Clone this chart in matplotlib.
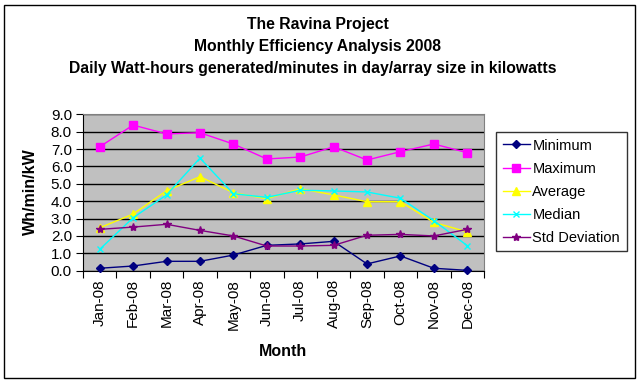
import matplotlib
matplotlib.use("Agg")
import matplotlib.pyplot as plt
from matplotlib.patches import Rectangle

months = ["Jan-08", "Feb-08", "Mar-08", "Apr-08", "May-08", "Jun-08",
          "Jul-08", "Aug-08", "Sep-08", "Oct-08", "Nov-08", "Dec-08"]
minimum = [0.14, 0.27, 0.54, 0.54, 0.90, 1.46, 1.54, 1.69, 0.39, 0.85, 0.14, 0.02]
maximum = [7.13, 8.38, 7.87, 7.94, 7.29, 6.43, 6.54, 7.13, 6.37, 6.85, 7.29, 6.79]
average = [2.47, 3.26, 4.60, 5.41, 4.49, 4.14, 4.72, 4.36, 3.97, 3.97, 2.78, 2.23]
median = [1.23, 3.05, 4.36, 6.48, 4.43, 4.22, 4.63, 4.59, 4.53, 4.17, 2.88, 1.44]
stddev = [2.38, 2.51, 2.67, 2.32, 2.00, 1.42, 1.42, 1.46, 2.04, 2.09, 2.00, 2.38]
yticks = [0.0, 1.0, 2.0, 3.0, 4.0, 5.0, 6.0, 7.0, 8.0, 9.0]

plt.rcParams['font.family'] = ['Liberation Sans', 'DejaVu Sans']

W, H = 641, 383
fig = plt.figure(figsize=(W / 100, H / 100), dpi=100)
fig.patch.set_facecolor('white')

ax = fig.add_axes([83 / W, 1 - 270.7 / H, 401 / W, (270.7 - 114.3) / H])
ax.set_facecolor('#C0C0C0')

x = list(range(len(months)))
series = [
    ("Minimum", minimum, '#000080', 'D', 4.5),
    ("Maximum", maximum, '#FF00FF', 's', 5.5),
    ("Average", average, '#FFFF00', '^', 6),
    ("Median", median, '#00FFFF', 'x', 5),
    ("Std Deviation", stddev, '#800080', '*', 6),
]
for name, vals, col, mk, ms in series:
    ax.plot(x, vals, color=col, marker=mk, markersize=ms, linewidth=1.0,
            markeredgewidth=1.0, label=name, zorder=3, clip_on=False)

ax.set_xlim(-0.5, 11.5)
ax.set_ylim(0, 9)
ax.set_yticks(yticks)
ax.set_yticklabels([f"{v:.1f}" for v in yticks], fontsize=11)
ax.yaxis.grid(True, color='black', linewidth=1.0)
ax.set_axisbelow(True)
ax.set_xticks([i - 0.5 for i in range(13)])
ax.set_xticklabels([])
ax.set_xticks(x, minor=True)
ax.set_xticklabels(months, minor=True, rotation=90, fontsize=11)
ax.tick_params(axis='x', which='minor', length=0, pad=6)
ax.tick_params(axis='x', which='major', length=5, direction='out', color='black')
ax.tick_params(axis='y', length=5, direction='out', color='black', pad=3)

for side in ['top', 'right']:
    ax.spines[side].set_color('#808080')
for side in ['left', 'bottom']:
    ax.spines[side].set_color('black')

ax.set_xlabel("Month", fontsize=11.5, fontweight='bold', labelpad=10)
fig.text(30 / W, 1 - 192 / H, "Wh/min/kW", rotation=90, fontsize=11.5,
         fontweight='bold', ha='center', va='center')

fig.text(318 / W, 1 - 24 / H, "The Ravina Project", fontsize=11.3,
         fontweight='bold', ha='center', va='center')
fig.text(318 / W, 1 - 46 / H, "Monthly Efficiency Analysis 2008", fontsize=11.3,
         fontweight='bold', ha='center', va='center')
fig.text(313 / W, 1 - 68 / H, "Daily Watt-hours generated/minutes in day/array size in kilowatts",
         fontsize=11.3, fontweight='bold', ha='center', va='center')

leg = fig.legend(loc='upper left', bbox_to_anchor=(496 / W, 1 - 132 / H),
                 bbox_transform=fig.transFigure, fontsize=10.5, frameon=True,
                 fancybox=False, shadow=False, borderpad=0.45, labelspacing=0.62,
                 handlelength=1.85, handletextpad=0.2, borderaxespad=0)
leg.get_frame().set_edgecolor('black')
leg.get_frame().set_linewidth(1.0)

fig.patches.append(Rectangle((4 / W, 5 / H), 631 / W, 373 / H,
                             transform=fig.transFigure, fill=False,
                             edgecolor='black', linewidth=1.0))

fig.savefig("out.png", dpi=100, facecolor='white')
